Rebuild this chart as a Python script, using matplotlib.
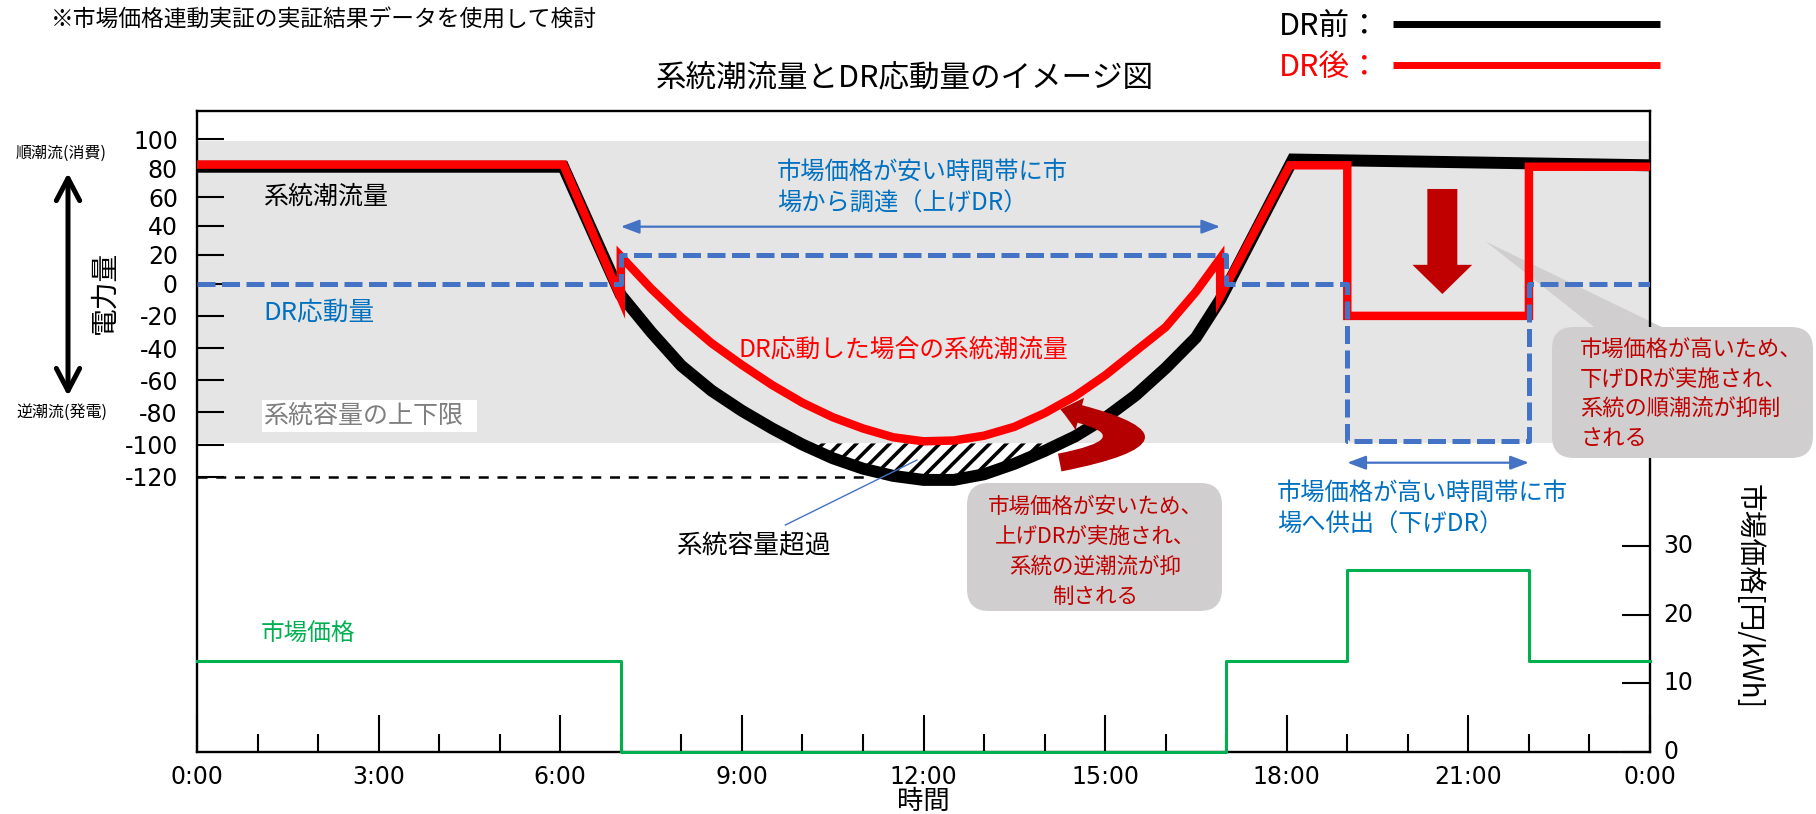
import numpy as np
import matplotlib
matplotlib.use("Agg")
import matplotlib.pyplot as plt
import matplotlib.transforms as mtransforms
from matplotlib.patches import FancyArrowPatch, FancyBboxPatch, Polygon, Rectangle
from matplotlib.lines import Line2D
from matplotlib.ticker import NullLocator

# ---------------- data ----------------
hour_ticks = [0, 3, 6, 9, 12, 15, 18, 21, 24]
hour_labels = ["0:00", "3:00", "6:00", "9:00", "12:00", "15:00", "18:00", "21:00", "0:00"]
flow_ticks = [100, 80, 60, 40, 20, 0, -20, -40, -60, -80, -100, -120]
price_ticks = [0, 10, 20, 30]

# midday trough (shared time grid for both flow curves)
trough_hours = [7.0, 7.5, 8.0, 8.5, 9.0, 9.5, 10.0, 10.5, 11.0, 11.5, 12.0,
                12.5, 13.0, 13.5, 14.0, 14.5, 15.0, 15.5, 16.0, 16.5, 16.9]
before_trough = [-7, -30, -51, -66.5, -79, -90, -100, -108.5, -115, -119.5, -122,
                 -122, -118.5, -112, -104, -95, -83.5, -69.5, -52.5, -33.5, -10]
after_trough = [19, -3, -21, -37, -50.5, -63, -74, -83, -90, -95.5, -98,
                -97.5, -94.5, -89, -80.5, -70, -57, -42, -27, -5, 17.5]

# grid flow before DR
before_hours = [0, 6.05] + trough_hours + [18.1, 24]
before_flow = [81, 81] + before_trough + [86, 82]

# grid flow after DR
after_hours = [0, 6.05, 7.0] + trough_hours + [16.9, 18.05, 19.0, 19.0, 22.0, 22.0, 24]
after_flow = [82.5, 82.5, -9] + after_trough + [-8, 82, 82, -20, -20, 81, 81]

# DR response (step)
dr_hours = [0, 7, 17, 19, 22, 24]
dr_values = [0, 20, 0, -98, 0, 0]

# market price (step)
price_hours = [0, 7, 17, 19, 22, 24]
price_values = [13.2, 0, 13.2, 26.5, 13.2, 13.2]

capacity_upper = 98.8
capacity_lower = -99.3
excess_hours = [0, 11.08]
excess_level = [-120, -120]

# ---------------- style ----------------
W, H = 1816, 814
JP = ["Noto Sans CJK JP", "DejaVu Sans"]
plt.rcParams["font.family"] = ["DejaVu Sans"]
plt.rcParams["hatch.linewidth"] = 2.6

BLUE_LINE = "#4472C4"
BLUE_TEXT = "#0070C0"
DARK_RED = "#C00000"
CALLOUT = "#D0CECE"

fig = plt.figure(figsize=(W / 100, H / 100), dpi=100)
fig.patch.set_facecolor("white")
# pixel coordinates measured from the top-left corner of the figure
PX = mtransforms.Affine2D().scale(1 / W, -1 / H).translate(0, 1) + fig.transFigure

ax = fig.add_axes([197 / W, (H - 752) / H, 1453 / W, 641 / H])

# positive flow is drawn slightly compressed compared with negative flow
POS = 0.898


def fwd(y):
    y = np.asarray(y, dtype=float)
    return np.where(y > 0, y * POS, y)


def inv(z):
    z = np.asarray(z, dtype=float)
    return np.where(z > 0, z / POS, z)


ax.set_yscale("function", functions=(fwd, inv))
ax.set_xlim(0, 24)
ax.set_ylim(-291.2, 119.6)

# capacity band
ax.axhspan(capacity_lower, capacity_upper, color="#E5E5E5", lw=0, zorder=0)

# capacity excess hatch
tb = np.array(before_trough)
top = np.minimum(np.array(after_trough), capacity_lower)
ax.fill_between(trough_hours, tb, top, where=tb < top, interpolate=True,
                facecolor="white", edgecolor="black", hatch="//", linewidth=0, zorder=2)

ax.plot(excess_hours, excess_level, color="black", lw=1.8, dashes=(4, 3.5), zorder=2)

ax.plot(before_hours, before_flow, color="black", lw=8.6,
        solid_joinstyle="miter", solid_capstyle="butt", zorder=3)
ax.plot(after_hours, after_flow, color="#FF0000", lw=6.1,
        solid_joinstyle="miter", solid_capstyle="butt", zorder=4)
ax.plot(dr_hours, dr_values, drawstyle="steps-post", color=BLUE_LINE, lw=3.6,
        dashes=(3.6, 1.3), zorder=5)

# callout pointer (right)
ax.add_patch(Polygon([(21.29, 29.1), (23.13, -28.5), (24.28, -28.5)], closed=True,
                     facecolor=CALLOUT, edgecolor="none", clip_on=False, zorder=1.5))

# double-headed arrows for DR periods
for (x0, x1, yv) in [(7.0, 16.9, 39.5), (19.0, 22.0, -111.3)]:
    ax.add_patch(FancyArrowPatch((x0, yv), (x1, yv),
                                 arrowstyle="<|-|>,head_length=0.4,head_width=0.15",
                                 mutation_scale=28, color=BLUE_LINE, lw=1.6,
                                 shrinkA=0, shrinkB=0, zorder=6))

# big downward arrow
ax.add_patch(FancyArrowPatch((20.57, 65.6), (20.57, -6.4),
                             arrowstyle="simple,head_length=21,head_width=43,tail_width=21.6",
                             mutation_scale=1, color=DARK_RED, lw=0,
                             shrinkA=0, shrinkB=0, zorder=6))

# U-turn arrow
ax.add_patch(FancyArrowPatch((14.25, -111.2), (14.26, -78.1),
                             connectionstyle="arc3,rad=2.4",
                             arrowstyle="simple,head_length=14.4,head_width=24,tail_width=13",
                             mutation_scale=1, color="#B40000", lw=0,
                             shrinkA=0, shrinkB=0, zorder=6, clip_on=False))

# axes styling
for s in ax.spines.values():
    s.set_linewidth(1.7)
    s.set_color("black")
ax.patch.set_visible(False)

ax.set_xticks(hour_ticks)
ax.set_xticklabels(hour_labels)
ax.set_xticks(range(25), minor=True)
ax.tick_params(axis="x", which="major", direction="in", length=26.6, width=1.5,
               labelsize=17, pad=9)
ax.tick_params(axis="x", which="minor", direction="in", length=13, width=1.5)

ax.set_yticks(flow_ticks)
ax.set_yticklabels([str(v) for v in flow_ticks])
ax.yaxis.set_minor_locator(NullLocator())
ax.tick_params(axis="y", which="major", direction="in", length=19.4, width=1.5,
               labelsize=17, pad=13.7, right=False)

# price axis
ax2 = ax.twinx()
ax2.set_ylim(0, 93.3)
ax2.plot(price_hours, price_values, drawstyle="steps-post", color="#00B050",
         lw=2.2, clip_on=False, zorder=3)
for s in ax2.spines.values():
    s.set_visible(False)
ax2.set_yticks(price_ticks)
ax2.set_yticklabels([str(v) for v in price_ticks], va="center")
ax2.yaxis.set_minor_locator(NullLocator())
ax2.tick_params(axis="y", direction="in", length=20, width=1.5, labelsize=17, pad=9.4)

# ---------------- figure-level decorations ----------------
def ftext(x, y, s, size, color="black", ha="left", rot=0, **kw):
    fig.text(x, y, s, transform=PX, fontsize=size, color=color, ha=ha,
             va="center", rotation=rot, family=JP, **kw)


ftext(51, 20, "※市場価格連動実証の実証結果データを使用して検討", 16.4)
ftext(905, 78, "系統潮流量とDR応動量のイメージ図", 22, ha="center")

ftext(1279, 27, "DR前：", 22)
ftext(1279, 67, "DR後：", 22, color="#FF0000")
fig.add_artist(Line2D([1393, 1660], [24, 24], transform=PX, color="black", lw=5,
                      solid_capstyle="butt"))
fig.add_artist(Line2D([1393, 1660], [65, 65], transform=PX, color="#FF0000", lw=5,
                      solid_capstyle="butt"))

ftext(61.5, 153, "順潮流(消費)", 11.5, ha="center")
ftext(61.5, 412, "逆潮流(発電)", 11.5, ha="center")
fig.add_artist(FancyArrowPatch((68, 173), (68, 396), transform=PX,
                               arrowstyle="<->,head_length=0.8,head_width=0.42",
                               mutation_scale=20, lw=3.6, color="black",
                               shrinkA=0, shrinkB=0))
ftext(105, 292, "電力量", 20, ha="center", rot=90)

ftext(263, 197, "系統潮流量", 18)
ftext(263, 312, "DR応動量", 18.5, color=BLUE_TEXT)
fig.add_artist(Rectangle((262, 400), 215, 32, transform=PX, facecolor="white",
                         edgecolor="none"))
ftext(263, 416, "系統容量の上下限", 18, color="#7F7F7F")

ftext(777, 171.7, "市場価格が安い時間帯に市", 17.5, color=BLUE_TEXT)
ftext(777, 203.3, "場から調達（上げDR）", 17.5, color=BLUE_TEXT)

ftext(738.6, 350, "DR応動した場合の系統潮流量", 17.8, color="#FF0000")

ftext(676, 546.7, "系統容量超過", 18.5)
fig.add_artist(Line2D([785.4, 917], [525, 460], transform=PX, color=BLUE_LINE, lw=1))

fig.add_artist(FancyBboxPatch((967, 483), 255, 128, transform=PX,
                              boxstyle="round,pad=0,rounding_size=22",
                              facecolor=CALLOUT, edgecolor="none"))
for i, line in enumerate(["市場価格が安いため、", "上げDRが実施され、",
                          "系統の逆潮流が抑", "制される"]):
    ftext(1095, 506.7 + 30 * i, line, 15.5, color=DARK_RED, ha="center")

ftext(1277, 493, "市場価格が高い時間帯に市", 17.5, color=BLUE_TEXT)
ftext(1277, 525, "場へ供出（下げDR）", 17.5, color=BLUE_TEXT)

fig.add_artist(FancyBboxPatch((1552, 327), 261, 131, transform=PX,
                              boxstyle="round,pad=0,rounding_size=22",
                              facecolor=CALLOUT, edgecolor="none"))
for i, line in enumerate(["市場価格が高いため、", "下げDRが実施され、",
                          "系統の順潮流が抑制", "される"]):
    ftext(1580, 350 + 29.5 * i, line, 16, color=DARK_RED)

ftext(260.6, 634.5, "市場価格", 17, color="#00B050")
ftext(923, 801, "時間", 19, ha="center")
ftext(1749, 597, "市場価格[円/kWh]", 20, ha="center", rot=270)

fig.savefig("out.png", dpi=100)
